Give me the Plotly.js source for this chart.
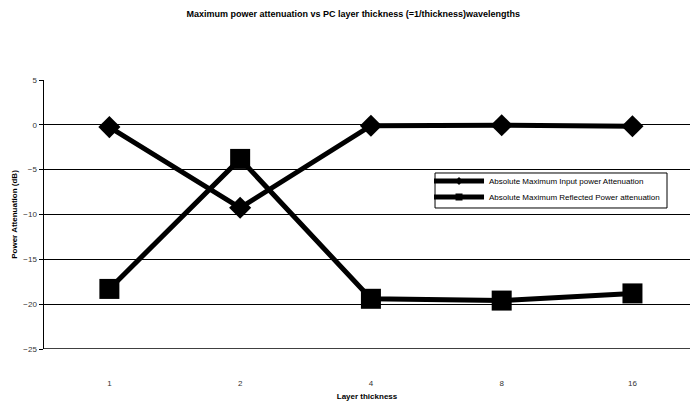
<!DOCTYPE html>
<html>
<head>
<meta charset="utf-8">
<script src="https://cdn.plot.ly/plotly-3.0.1.min.js"></script>
<style>html,body{margin:0;padding:0;background:#fff;}#chart{width:690px;height:404px;}</style>
</head>
<body>
<div id="chart"></div>
<script>
const categories = ['1', '2', '4', '8', '16'];
const inputAttenuation = [-0.25, -9.25, -0.1, -0.05, -0.15];
const reflectedAttenuation = [-18.3, -3.8, -19.4, -19.6, -18.8];
const seriesNames = ['Absolute Maximum Input power Attenuation', 'Absolute Maximum Reflected Power attenuation'];
const yTicks = [5, 0, -5, -10, -15, -20, -25];

const FONT = 'Arial, "Liberation Sans", sans-serif';

const traces = [
  {x: categories, y: inputAttenuation, type: 'scatter', mode: 'lines+markers', showlegend: false,
   line: {color: '#000', width: 5}, marker: {symbol: 'diamond', size: 17, color: '#000'}},
  {x: categories, y: reflectedAttenuation, type: 'scatter', mode: 'lines+markers', showlegend: false,
   line: {color: '#000', width: 5}, marker: {symbol: 'square', size: 20, color: '#000'}},
  {x: [null], y: [null], type: 'scatter', mode: 'lines+markers', name: seriesNames[0], legend: 'legend',
   line: {color: '#000', width: 5}, marker: {symbol: 'diamond', size: 6, color: '#000'}},
  {x: [null], y: [null], type: 'scatter', mode: 'lines+markers', name: seriesNames[1], legend: 'legend2',
   line: {color: '#000', width: 5}, marker: {symbol: 'square', size: 7, color: '#000'}}
];

const legendCommon = {xanchor: 'left', yanchor: 'middle', bgcolor: 'rgba(0,0,0,0)', borderwidth: 0,
  font: {family: FONT, size: 8, color: '#000'}, itemwidth: 50};

const layout = {
  width: 690, height: 404,
  margin: {l: 44, r: 0, t: 80, b: 55},
  paper_bgcolor: '#fff', plot_bgcolor: '#fff',
  font: {family: FONT, size: 8, color: '#000'},
  title: {text: '<b>Maximum power attenuation vs PC layer thickness (=1/thickness)wavelengths</b>',
          font: {family: FONT, size: 9, color: '#000'}, x: 0.512, xanchor: 'center', y: 0.965, yanchor: 'middle'},
  xaxis: {type: 'category', categoryorder: 'array', categoryarray: categories,
          range: [-0.5, 4.44], showgrid: false, zeroline: false, showline: false,
          ticks: '', ticklabelstandoff: 28, tickfont: {family: FONT, size: 8, color: '#333'},
          title: {text: '<b>Layer thickness</b>', font: {family: FONT, size: 8, color: '#000'}, standoff: 6},
          fixedrange: true},
  yaxis: {range: [-25, 5], tickvals: yTicks, showgrid: true, gridcolor: '#000', gridwidth: 1,
          zeroline: true, zerolinecolor: '#000', zerolinewidth: 1,
          showline: true, linecolor: '#000', linewidth: 1.5, ticks: 'outside', ticklen: 4, tickcolor: '#000',
          tickfont: {family: FONT, size: 8, color: '#333'},
          title: {text: '<b>Power Attenuation (dB)</b>', font: {family: FONT, size: 8, color: '#000'}, standoff: 4},
          fixedrange: true},
  showlegend: true,
  legend: Object.assign({x: 0.596, y: 0.6245}, legendCommon),
  legend2: Object.assign({x: 0.596, y: 0.565}, legendCommon),
  shapes: [
    {type: 'line', xref: 'paper', yref: 'y', x0: 0, x1: 1, y0: -25, y1: -25, line: {color: '#000', width: 1.5}},
    {type: 'rect', xref: 'paper', yref: 'paper', x0: 0.6053, x1: 0.9644, y0: 0.5242, y1: 0.6543,
     line: {color: '#000', width: 1}, fillcolor: '#fff', layer: 'above'}
  ]
};

Plotly.newPlot('chart', traces, layout, {staticPlot: true, displayModeBar: false});
</script>
</body>
</html>
